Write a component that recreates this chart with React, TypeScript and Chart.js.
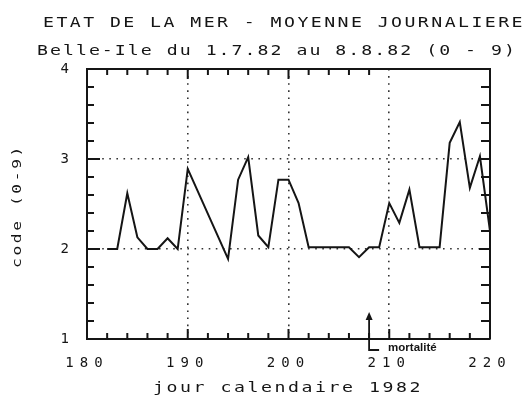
import React, { useEffect, useRef } from 'react';
import { Chart, registerables } from 'chart.js';
Chart.register(...registerables);

const days = [182, 183, 184, 185, 186, 187, 188, 189, 190, 194, 195, 196, 197, 198, 199, 200, 201, 202, 203, 204, 205, 206, 207, 208, 209, 210, 211, 212, 213, 214, 215, 216, 217, 218, 219, 220];
const seaState = [2.0, 2.0, 2.62, 2.13, 2.0, 2.0, 2.12, 2.0, 2.89, 1.89, 2.77, 3.02, 2.15, 2.02, 2.77, 2.77, 2.51, 2.02, 2.02, 2.02, 2.02, 2.02, 1.91, 2.02, 2.02, 2.51, 2.29, 2.66, 2.02, 2.02, 2.02, 3.18, 3.41, 2.68, 3.03, 2.2];
const xRange = [180, 220];
const yRange = [1, 4];
const titleLines = ['ETAT DE LA MER - MOYENNE JOURNALIERE', 'Belle-Ile du 1.7.82 au 8.8.82 (0 - 9)'];
const xTitle = 'jour calendaire 1982';
const yTitle = 'code (0-9)';
const markerDay = 208;
const markerTipValue = 1.3;
const markerLabel = 'mortalité';

const FONT = '"DejaVu Sans Mono", monospace';
const INK = '#151515';

function wideText(ctx: CanvasRenderingContext2D, text: string, x: number, y: number, width: number, stretch: number) {
  // draws text horizontally stretched so it spans `width` px starting at x
  ctx.save();
  (ctx as any).letterSpacing = '0px';
  const n = text.length;
  const base = ctx.measureText(text).width / n;
  const perChar = width / stretch / n;
  const spacing = Math.max(0, perChar - base);
  (ctx as any).letterSpacing = spacing.toFixed(2) + 'px';
  ctx.translate(x, y);
  ctx.scale(stretch, 1);
  ctx.fillText(text, 0, 0);
  ctx.restore();
}

const framePlugin = {
  id: 'frame',
  beforeDraw(chart: any) {
    const ctx = chart.ctx;
    (ctx as any).letterSpacing = '6px';
  },
  afterDraw(chart: any) {
    const ctx = chart.ctx as CanvasRenderingContext2D;
    const { left, right, top, bottom } = chart.chartArea;
    const xs = chart.scales.x;
    const ys = chart.scales.y;
    ctx.save();
    (ctx as any).letterSpacing = '0px';
    ctx.strokeStyle = INK;
    ctx.lineWidth = 2;
    ctx.beginPath();
    ctx.moveTo(left, top);
    ctx.lineTo(right, top);
    ctx.lineTo(right, bottom);
    ctx.stroke();
    for (let d = xRange[0] + 2; d < xRange[1]; d += 2) {
      const px = xs.getPixelForValue(d);
      const major = d % 10 === 0;
      const len = major ? 10 : 6;
      ctx.beginPath();
      ctx.moveTo(px, bottom);
      ctx.lineTo(px, bottom - len);
      ctx.stroke();
      if (d <= 208) {
        ctx.beginPath();
        ctx.moveTo(px, top);
        ctx.lineTo(px, top + len);
        ctx.stroke();
      }
    }
    for (let i = 1; i < 15; i++) {
      const v = yRange[0] + i * 0.2;
      const py = ys.getPixelForValue(v);
      const major = i % 5 === 0;
      ctx.beginPath();
      ctx.moveTo(left, py);
      ctx.lineTo(left + (major ? 13 : 7), py);
      ctx.moveTo(right, py);
      ctx.lineTo(right - (major ? 11 : 9), py);
      ctx.stroke();
    }
    ctx.fillStyle = INK;
    ctx.textBaseline = 'middle';
    ctx.textAlign = 'left';
    ctx.font = '14px ' + FONT;
    wideText(ctx, titleLines[0], 43, 23, 482, 1.3);
    wideText(ctx, titleLines[1], 37, 51, 480, 1.3);
    wideText(ctx, xTitle, 153, 388, 270, 1.3);
    ctx.save();
    ctx.translate(18, 268);
    ctx.rotate(-Math.PI / 2);
    ctx.font = '13px ' + FONT;
    wideText(ctx, yTitle, 0, 0, 124, 1.25);
    ctx.restore();
    const mx = xs.getPixelForValue(markerDay);
    const tipY = ys.getPixelForValue(markerTipValue);
    const baseY = bottom + 11;
    ctx.lineWidth = 1.8;
    ctx.beginPath();
    ctx.moveTo(mx, tipY + 6);
    ctx.lineTo(mx, baseY);
    ctx.lineTo(mx + 10, baseY);
    ctx.stroke();
    ctx.beginPath();
    ctx.moveTo(mx, tipY);
    ctx.lineTo(mx - 3.5, tipY + 8);
    ctx.lineTo(mx + 3.5, tipY + 8);
    ctx.closePath();
    ctx.fill();
    (ctx as any).letterSpacing = '0px';
    ctx.font = 'bold 11.5px "Liberation Sans", Arial, sans-serif';
    ctx.textBaseline = 'alphabetic';
    ctx.fillText(markerLabel, mx + 19, baseY + 1);
    ctx.restore();
  },
};

export default function App() {
  const ref = useRef<HTMLCanvasElement | null>(null);
  useEffect(() => {
    if (!ref.current) return;
    const gridColor = (lim: number[]) => (c: any) =>
      c.tick && (c.tick.value === lim[0] || c.tick.value === lim[1]) ? 'rgba(0,0,0,0)' : '#333';
    const chart = new Chart(ref.current, {
      type: 'line',
      data: {
        datasets: [
          {
            data: days.map((d, i) => ({ x: d, y: seaState[i] })),
            borderColor: INK,
            borderWidth: 2,
            pointRadius: 0,
            tension: 0,
            fill: false,
          },
        ],
      },
      options: {
        animation: false,
        responsive: false,
        devicePixelRatio: 1,
        layout: { padding: { top: 69, right: 42, left: 0, bottom: 0 } },
        plugins: { legend: { display: false }, tooltip: { enabled: false }, title: { display: false } },
        scales: {
          x: {
            type: 'linear',
            min: xRange[0],
            max: xRange[1],
            afterFit: (s: any) => { s.height = 63; },
            ticks: {
              stepSize: 10,
              color: INK,
              padding: 16,
              maxRotation: 0,
              font: { family: FONT, size: 14 },
            },
            grid: { drawTicks: false, color: gridColor(xRange), lineWidth: 1.6 },
            border: { display: true, color: INK, width: 2, dash: [1.6, 5.5] },
          },
          y: {
            type: 'linear',
            min: yRange[0],
            max: yRange[1],
            afterFit: (s: any) => { s.width = 87; },
            ticks: {
              stepSize: 1,
              color: INK,
              padding: 12,
              font: { family: FONT, size: 14 },
            },
            grid: { drawTicks: false, color: gridColor(yRange), lineWidth: 1.6 },
            border: { display: true, color: INK, width: 2, dash: [1.6, 5.5] },
          },
        },
      } as any,
      plugins: [framePlugin],
    });
    return () => chart.destroy();
  }, []);
  return (
    <div style={{ position: 'absolute', left: 0, top: 0, width: 532, height: 402, background: '#fff' }}>
      <canvas ref={ref} width={532} height={402} style={{ width: 532, height: 402 }} />
    </div>
  );
}
